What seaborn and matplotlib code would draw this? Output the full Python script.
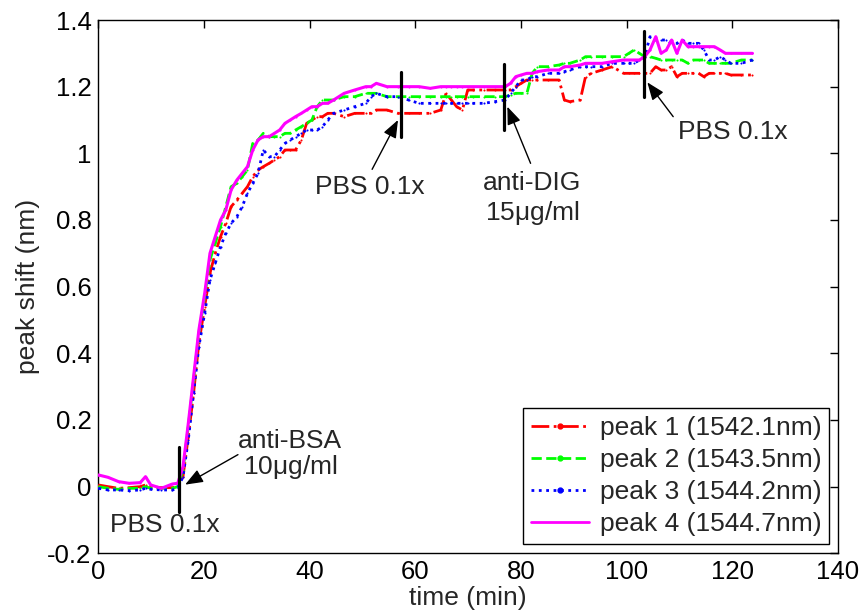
import numpy as np
import pandas as pd
import matplotlib
matplotlib.use("Agg")
import matplotlib.pyplot as plt
import seaborn as sns
from matplotlib.lines import Line2D

# ---------------- data ----------------
time_min = [0.0, 1.8, 3.8, 5.8, 7.9, 8.9, 9.9, 11.9, 14.0, 15.0, 16.0, 17.0, 18.0, 19.0,
            20.1, 21.1, 22.1, 23.1, 24.1, 25.1, 26.2, 27.2, 28.2, 29.2, 30.2, 31.2,
            32.3, 33.3, 34.3, 35.3, 36.3, 37.3, 38.4, 39.4, 40.4, 41.4, 42.4, 43.4,
            44.5, 46.5, 48.5, 50.6, 51.6, 52.6, 54.6, 56.7, 58.7, 60.7, 62.8, 64.8,
            65.8, 66.8, 67.8, 68.9, 69.9, 70.9, 72.9, 75.0, 77.0, 78.0, 79.0, 80.0,
            81.1, 82.1, 83.1, 85.1, 87.2, 88.2, 89.2, 91.2, 92.2, 93.3, 95.3, 97.3,
            99.4, 100.4, 101.4, 102.4, 103.4, 104.4, 105.5, 106.5, 107.5, 108.5,
            109.5, 110.5, 111.6, 112.6, 113.6, 114.6, 115.6, 116.6, 117.7, 118.7,
            119.7, 121.7, 123.8]

peak1 = [0.005, 0.0, -0.005, -0.003, 0.0, 0.005, 0.0, -0.003, -0.003, 0.0,
         0.03, 0.15, 0.28, 0.43, 0.54, 0.64, 0.70, 0.75, 0.79, 0.84,
         0.86, 0.88, 0.90, 0.93, 0.95, 0.96, 0.97, 0.98, 0.99, 1.01,
         1.01, 1.01, 1.04, 1.09, 1.10, 1.11, 1.11, 1.12, 1.12,
         1.11, 1.12, 1.12, 1.12, 1.13, 1.13, 1.12, 1.12, 1.12, 1.12, 1.13,
         1.18, 1.16, 1.14, 1.13, 1.19, 1.19, 1.19, 1.19,
         1.19, 1.19, 1.20, 1.21, 1.22, 1.22, 1.22, 1.22, 1.22, 1.16, 1.155,
         1.16, 1.23, 1.24, 1.25, 1.26, 1.24, 1.24, 1.24,
         1.24, 1.24, 1.24, 1.26, 1.25, 1.25, 1.26, 1.23, 1.24, 1.24, 1.24,
         1.24, 1.23, 1.24, 1.24, 1.24, 1.24, 1.235, 1.235, 1.235]

peak2 = [0.0, -0.005, -0.008, -0.005, -0.005, 0.0, -0.005, -0.005, -0.005, 0.0,
         0.05, 0.18, 0.32, 0.46, 0.57, 0.68, 0.73, 0.78, 0.84, 0.90,
         0.91, 0.93, 0.95, 1.03, 1.04, 1.06, 1.05, 1.05, 1.05, 1.06,
         1.06, 1.07, 1.08, 1.09, 1.10, 1.14, 1.16, 1.16, 1.16,
         1.17, 1.17, 1.18, 1.18, 1.18, 1.17, 1.17, 1.17, 1.17, 1.17, 1.17,
         1.17, 1.17, 1.17, 1.17, 1.17, 1.17, 1.17, 1.17,
         1.17, 1.175, 1.18, 1.18, 1.18, 1.24, 1.26, 1.26, 1.265, 1.27, 1.27,
         1.28, 1.29, 1.29, 1.29, 1.29, 1.29, 1.30, 1.31,
         1.30, 1.29, 1.29, 1.285, 1.28, 1.28, 1.28, 1.28, 1.28, 1.27, 1.28,
         1.28, 1.28, 1.27, 1.27, 1.27, 1.27, 1.27, 1.28, 1.28]

peak3 = [-0.005, -0.01, -0.01, -0.012, -0.01, -0.005, -0.008, -0.01, -0.01, -0.005,
         0.03, 0.14, 0.28, 0.42, 0.52, 0.62, 0.67, 0.72, 0.76, 0.79,
         0.81, 0.84, 0.88, 0.91, 0.94, 1.01, 0.99, 0.99, 1.01, 1.03,
         1.04, 1.05, 1.06, 1.07, 1.07, 1.07, 1.08, 1.10, 1.12,
         1.13, 1.14, 1.15, 1.17, 1.18, 1.17, 1.17, 1.16, 1.15, 1.15, 1.15,
         1.15, 1.15, 1.15, 1.15, 1.15, 1.15, 1.15, 1.155,
         1.16, 1.18, 1.20, 1.22, 1.22, 1.23, 1.23, 1.24, 1.24, 1.245, 1.25,
         1.26, 1.26, 1.26, 1.26, 1.27, 1.27, 1.27, 1.27,
         1.28, 1.29, 1.35, 1.34, 1.34, 1.34, 1.33, 1.33, 1.34, 1.33, 1.33,
         1.33, 1.31, 1.28, 1.28, 1.29, 1.28, 1.27, 1.27, 1.28]

peak4 = [0.035, 0.028, 0.015, 0.01, 0.012, 0.03, 0.005, -0.005, 0.008, 0.01,
         0.06, 0.19, 0.33, 0.47, 0.58, 0.70, 0.75, 0.80, 0.83, 0.89,
         0.92, 0.94, 0.96, 1.01, 1.04, 1.05, 1.05, 1.06, 1.07, 1.09,
         1.10, 1.11, 1.12, 1.13, 1.14, 1.14, 1.15, 1.15, 1.16,
         1.18, 1.19, 1.20, 1.20, 1.21, 1.20, 1.20, 1.20, 1.20, 1.195, 1.20,
         1.20, 1.20, 1.20, 1.20, 1.20, 1.20, 1.20, 1.20,
         1.20, 1.21, 1.23, 1.235, 1.24, 1.24, 1.245, 1.25, 1.25, 1.26, 1.26,
         1.265, 1.27, 1.27, 1.27, 1.275, 1.28, 1.28, 1.28,
         1.28, 1.29, 1.31, 1.35, 1.30, 1.31, 1.34, 1.30, 1.34, 1.32, 1.32,
         1.32, 1.32, 1.32, 1.32, 1.31, 1.30, 1.30, 1.30, 1.30]

series_labels = ["peak 1 (1542.1nm)", "peak 2 (1543.5nm)",
                 "peak 3 (1544.2nm)", "peak 4 (1544.7nm)"]
series_colors = ["#ff0000", "#00ff00", "#0000ff", "#ff00ff"]
series_styles = ["-.", "--", ":", "-"]

x_ticks = [0, 20, 40, 60, 80, 100, 120, 140]
y_ticks = [-0.2, 0, 0.2, 0.4, 0.6, 0.8, 1, 1.2, 1.4]
y_ticklabels = ["-0.2", "0", "0.2", "0.4", "0.6", "0.8", "1", "1.2", "1.4"]

# event markers: (time, y_bottom, y_top)
event_bars = [(15.2, -0.075, 0.12), (57.3, 1.05, 1.245), (76.8, 1.07, 1.267), (103.3, 1.168, 1.366)]

# ---------------- plot ----------------
sns.set_theme(style="white")
plt.rcParams["font.family"] = ["Liberation Sans", "DejaVu Sans"]
plt.rcParams["mathtext.fontset"] = "custom"
plt.rcParams["mathtext.rm"] = "Liberation Sans"
plt.rcParams["mathtext.it"] = "Liberation Sans"

fig = plt.figure(figsize=(8.62, 6.16), dpi=100)
ax = fig.add_axes([98.5 / 862, 1 - 553.3 / 616, (838 - 98.5) / 862, 533.3 / 616])

all_series = [peak1, peak2, peak3, peak4]
for vals, lab, col, ls in zip(all_series, series_labels, series_colors, series_styles):
    df = pd.DataFrame({"time": time_min, "shift": vals})
    lw = 2.2 if ls == "-" else 2.0
    sns.lineplot(data=df, x="time", y="shift", ax=ax, color=col, linestyle=ls,
                 linewidth=lw, marker=".", markersize=3, markeredgewidth=0,
                 label=None, legend=False, zorder=3)

for (tx, yb, yt) in event_bars:
    ax.plot([tx, tx], [yb, yt], color="black", linewidth=2.3, zorder=5)

arrow_kw = dict(arrowstyle="-|>,head_length=0.9,head_width=0.35", color="black",
                lw=1.0, shrinkA=0, shrinkB=0)
fs = 19
ax.annotate("", xy=(16.4, 0.006), xytext=(26.4, 0.096), arrowprops=arrow_kw, zorder=6)
ax.text(36.3, 0.138, "anti-BSA", ha="center", va="center", fontsize=fs)
ax.text(36.3, 0.058, "10$\\mu$g/ml", ha="center", va="center", fontsize=fs)
ax.text(12.6, -0.115, "PBS 0.1x", ha="center", va="center", fontsize=fs)

ax.annotate("", xy=(56.7, 1.10), xytext=(51.8, 0.952), arrowprops=arrow_kw, zorder=6)
ax.text(51.4, 0.90, "PBS 0.1x", ha="center", va="center", fontsize=fs)

ax.annotate("", xy=(77.4, 1.14), xytext=(81.8, 0.97), arrowprops=arrow_kw, zorder=6)
ax.text(82.1, 0.91, "anti-DIG", ha="center", va="center", fontsize=fs)
ax.text(82.1, 0.82, "15$\\mu$g/ml", ha="center", va="center", fontsize=fs)

ax.annotate("", xy=(103.9, 1.213), xytext=(108.8, 1.11), arrowprops=arrow_kw, zorder=6)
ax.text(120.0, 1.063, "PBS 0.1x", ha="center", va="center", fontsize=fs)

ax.set_xlim(0, 140)
ax.set_ylim(-0.2, 1.4)
ax.set_xticks(x_ticks)
ax.set_xticklabels([str(v) for v in x_ticks])
ax.set_yticks(y_ticks)
ax.set_yticklabels(y_ticklabels)
ax.tick_params(direction="in", length=6, width=1, top=True, right=True,
               labelsize=18.5, colors="black", pad=5)
for sp in ax.spines.values():
    sp.set_color("black")
    sp.set_linewidth(1.0)
ax.set_xlabel("time (min)", fontsize=fs, labelpad=1)
ax.set_ylabel("peak shift (nm)", fontsize=fs, labelpad=5)

handles = []
for lab, col, ls, i in zip(series_labels, series_colors, series_styles, range(4)):
    mk = "." if i < 3 else None
    handles.append(Line2D([0], [0], color=col, linestyle=ls, linewidth=2.0,
                          marker=mk, markersize=7, label=lab))
leg = ax.legend(handles=handles, loc="lower right", bbox_to_anchor=(0.988, 0.0174),
                borderaxespad=0, fontsize=fs, frameon=True,
                fancybox=False, edgecolor="black", framealpha=1, handlelength=2.2,
                borderpad=0.3, labelspacing=0.3, handletextpad=0.4, numpoints=1)
leg.get_frame().set_linewidth(1.0)

fig.savefig("out.png", dpi=100)
